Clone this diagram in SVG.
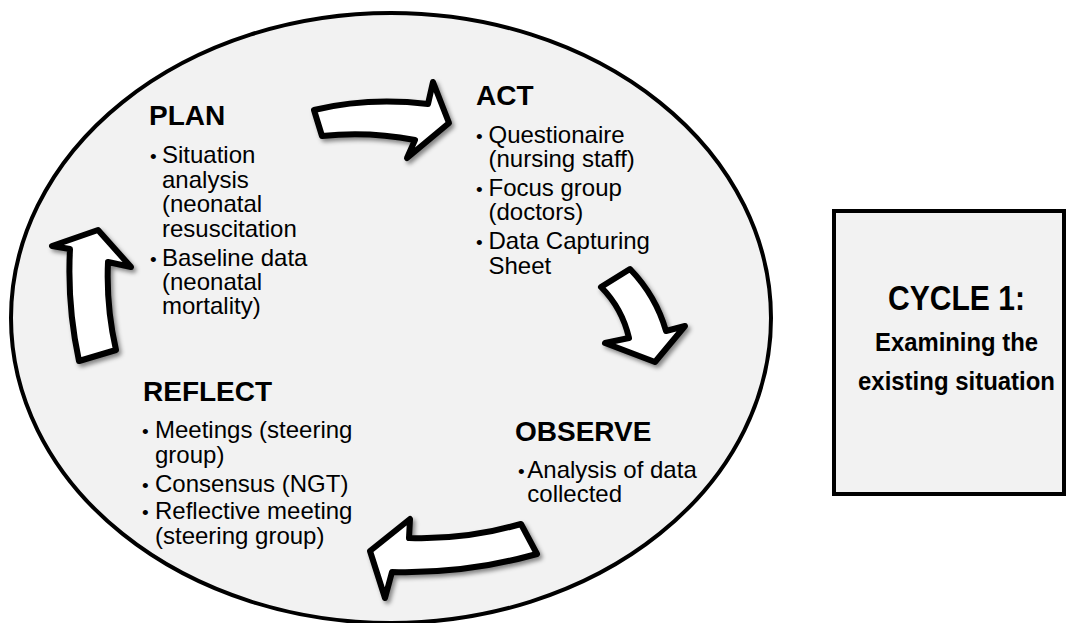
<svg xmlns="http://www.w3.org/2000/svg" width="1068" height="623" viewBox="0 0 1068 623">
  <style>
    .bg { fill: #ffffff; }
    .cycle { fill: #f2f2f2; stroke: #000; stroke-width: 4; }
    .box { fill: #f2f2f2; stroke: #000; stroke-width: 4; }
    .arrow { fill: #ffffff; stroke: #000; stroke-width: 6; stroke-linejoin: round; filter: url(#shadow); }
    .head { font-family: "Liberation Sans", Arial, sans-serif; font-weight: bold; font-size: 28px; fill: #000; }
    .item { font-family: "Liberation Sans", Arial, sans-serif; font-size: 24px; fill: #000; }
    .dot { font-family: "Liberation Sans", Arial, sans-serif; font-size: 19px; fill: #000; }
    .title { font-family: "Liberation Sans Narrow", "Liberation Sans", Arial, sans-serif; font-weight: bold; fill: #000; text-anchor: middle; }
  </style>
  <defs>
    <filter id="shadow" x="-20%" y="-20%" width="150%" height="150%">
      <feDropShadow dx="2.5" dy="3" stdDeviation="2.2" flood-color="#000" flood-opacity="0.45"/>
    </filter>
  </defs>
  <rect class="bg" x="0" y="0" width="1068" height="623"/>

  <g id="cycle-ellipse">
    <ellipse class="cycle" cx="391" cy="318" rx="380" ry="305"/>
  </g>

  <g id="connectors">
    <path class="arrow" d="M 314,110 Q 368,97 428,104 L 433,82 L 449,123 L 407,158 L 415,140 Q 368,131 322,136 Z"/>
    <path class="arrow" d="M 601,287 L 630,269 Q 656,296 666,331 L 685,326 L 655,362 L 605,343 L 629,338 Q 622,308 601,287 Z"/>
    <path class="arrow" d="M 521,524 L 537,554 Q 466,574 392,572 L 385,598 L 370,551 L 410,519 L 409,538 Q 465,540 521,524 Z"/>
    <path class="arrow" d="M 79,361 L 116,350 Q 106,306 108,262 L 131,267 L 98,230 L 52,246 L 70,249 Q 67,305 79,361 Z"/>
  </g>

  <g id="plan">
    <text class="head" x="149" y="125">PLAN</text>
    <text class="dot" x="150" y="163">•</text>
    <text class="item" x="162" y="163">Situation</text>
    <text class="item" x="162" y="187.5">analysis</text>
    <text class="item" x="162" y="211.5">(neonatal</text>
    <text class="item" x="162" y="236.5">resuscitation</text>
    <text class="dot" x="150" y="265.5">•</text>
    <text class="item" x="162" y="265.5">Baseline data</text>
    <text class="item" x="162" y="289.5">(neonatal</text>
    <text class="item" x="162" y="313.5">mortality)</text>
  </g>

  <g id="act">
    <text class="head" x="476" y="104.5">ACT</text>
    <text class="dot" x="476" y="142.5">•</text>
    <text class="item" x="488.5" y="142.5">Questionaire</text>
    <text class="item" x="488.5" y="166.5">(nursing staff)</text>
    <text class="dot" x="476" y="196">•</text>
    <text class="item" x="488.5" y="196">Focus group</text>
    <text class="item" x="488.5" y="220">(doctors)</text>
    <text class="dot" x="476" y="248.5">•</text>
    <text class="item" x="488.5" y="248.5">Data Capturing</text>
    <text class="item" x="488.5" y="273.5">Sheet</text>
  </g>

  <g id="observe">
    <text class="head" x="515" y="440.7">OBSERVE</text>
    <text class="dot" x="518" y="478.3">•</text>
    <text class="item" x="527.3" y="478.3">Analysis of data</text>
    <text class="item" x="527.3" y="501.7">collected</text>
  </g>

  <g id="reflect">
    <text class="head" x="143" y="400.7">REFLECT</text>
    <text class="dot" x="142" y="438">•</text>
    <text class="item" x="155" y="438">Meetings (steering</text>
    <text class="item" x="155" y="463">group)</text>
    <text class="dot" x="142" y="491.7">•</text>
    <text class="item" x="155" y="491.7">Consensus (NGT)</text>
    <text class="dot" x="142" y="519.3">•</text>
    <text class="item" x="155" y="519.3">Reflective meeting</text>
    <text class="item" x="155" y="544.3">(steering group)</text>
  </g>

  <g id="cycle-label">
    <rect class="box" x="834" y="211" width="230" height="283"/>
    <text class="title" x="956.5" y="310" font-size="35" textLength="137" lengthAdjust="spacingAndGlyphs">CYCLE 1:</text>
    <text class="title" x="956.5" y="350.5" font-size="26" textLength="163" lengthAdjust="spacingAndGlyphs">Examining the</text>
    <text class="title" x="956.5" y="390" font-size="26" textLength="197" lengthAdjust="spacingAndGlyphs">existing situation</text>
  </g>
</svg>
